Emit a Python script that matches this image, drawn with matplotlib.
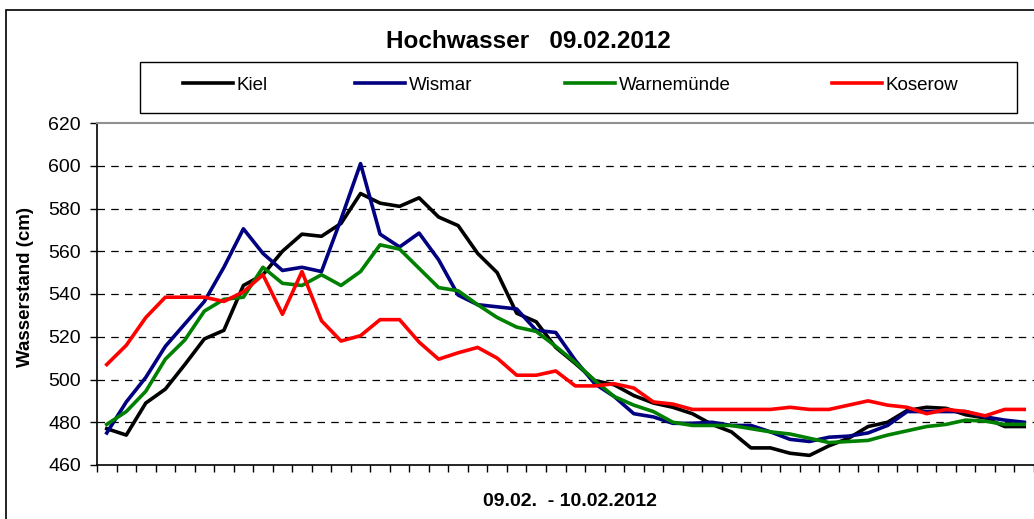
import numpy as np
import matplotlib
matplotlib.use('Agg')
import matplotlib.pyplot as plt
from matplotlib.patches import Rectangle

plt.rcParams['font.family'] = ['Liberation Sans', 'DejaVu Sans']

# Wasserstand (cm), stündlich, 09.02. - 10.02.2012
kiel = [477, 474, 489, 495.5, 507, 519, 523, 544, 549, 560, 568, 567, 573, 587, 582.5, 581,
        585, 576, 572, 559, 550, 531, 527, 515, 507.5, 499.5, 497.5, 492.5, 489, 487, 484, 479,
        475.5, 468, 468, 465.5, 464.5, 469, 472.5, 478, 480, 485.5, 487, 486.5, 483.5, 482, 478, 478]
wismar = [475, 489.5, 501, 515.5, 526, 536.5, 552.5, 570.5, 559, 551, 552.5, 550.5, 575, 601, 568, 562,
          568.5, 556, 539.5, 535, 534, 533, 523, 522, 509, 498, 492, 484, 482.5, 479.5, 479.5, 480,
          478.5, 478.5, 475.5, 472, 471, 473, 473.5, 475, 478.5, 485, 485, 485, 485, 482.5, 481, 480]
warnemuende = [479, 485, 494.5, 509.5, 518.5, 532, 537.5, 538.5, 552.5, 545, 544, 549, 544, 550.5, 563, 561,
               552, 543, 541.5, 535, 529, 524.5, 522.5, 515.5, 508, 499.5, 492, 488, 485, 480, 478.5, 478.5,
               478.5, 477, 475.5, 474.5, 472.5, 470.5, 471, 471.5, 474, 476, 478, 479, 481, 480.5, 479, 479]
koserow = [507, 516, 529, 538.5, 538.5, 538.5, 536.5, 541, 549, 530.5, 550.5, 527.5, 518, 520.5, 528, 528,
           517.5, 509.5, 512.5, 515, 510, 502, 502, 504, 497, 497, 498, 496, 489.5, 488.5, 486, 486,
           486, 486, 486, 487, 486, 486, 488, 490, 488, 487, 484, 486, 485, 483, 486, 486]

serien = [('Kiel', kiel, '#000000'),
          ('Wismar', wismar, '#000080'),
          ('Warnemünde', warnemuende, '#008000'),
          ('Koserow', koserow, '#ff0000')]
legende_x = [183, 355, 565, 832]   # linker Rand der Legendenlinien (px)

W, H = 1034, 519
fig = plt.figure(figsize=(W / 100, H / 100), dpi=100)
ax = fig.add_axes([97 / W, 1 - 465 / H, (W - 97) / W, (465 - 123) / H])

x = np.arange(len(kiel))
handles = []
for name, werte, farbe in serien:
    h, = ax.plot(x, werte, color=farbe, lw=2.6, label=name)
    handles.append(h)

ax.set_xlim(-0.5, -0.5 + (W - 97) / 19.75)
ax.set_ylim(460, 620)
ax.set_yticks(np.arange(460, 621, 20))
ax.set_xticks(np.arange(-0.5, 48, 1))
ax.set_xticklabels([])
ax.tick_params(axis='both', direction='out', length=5, width=1, color='black')
ax.tick_params(axis='y', labelsize=14, pad=6.5)

for g in range(480, 601, 20):
    ax.axhline(g, color='black', lw=0.9, ls=(0, (6, 5)), zorder=0)

ax.spines['left'].set_linewidth(1.2)
ax.spines['bottom'].set_linewidth(1.2)
ax.spines['top'].set_color('#909090')
ax.spines['top'].set_linewidth(1.5)
ax.spines['right'].set_visible(False)

# Rahmen des Diagrammbereichs
fig.patches.append(Rectangle((6 / W, -0.5), 2, 1 - 10 / H + 0.5, transform=fig.transFigure,
                             fill=False, edgecolor='black', lw=1.2))

fig.text(528 / W, 1 - 41 / H, 'Hochwasser   09.02.2012', ha='center', va='center',
         fontsize=17.5, fontweight='bold')
fig.text(26 / W, 1 - 287 / H, 'Wasserstand (cm)', ha='center', va='center', rotation=90,
         fontsize=13.5, fontweight='bold')
fig.text(570 / W, 1 - 501 / H, '09.02.  - 10.02.2012', ha='center', va='center',
         fontsize=14, fontweight='bold')

# Legende
fig.patches.append(Rectangle((140 / W, 1 - 113 / H), (1017 - 140) / W, 51 / H,
                             transform=fig.transFigure, fill=False, edgecolor='black', lw=1))
for h, lx in zip(handles, legende_x):
    fig.legend(handles=[h], loc='center left', frameon=False,
               bbox_to_anchor=(lx / W, 1 - 85 / H), fontsize=13.5,
               handlelength=2.65, handletextpad=0.2, borderpad=0, borderaxespad=0)

fig.savefig('out.png', dpi=100)
